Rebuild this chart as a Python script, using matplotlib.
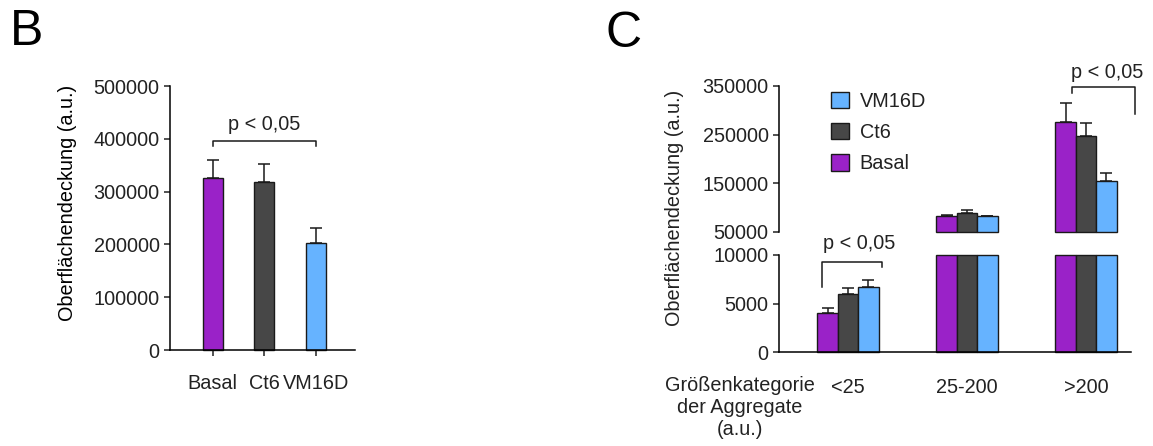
import numpy as np
import matplotlib
matplotlib.use('Agg')
import matplotlib.pyplot as plt
from matplotlib.patches import Patch

FS = 14.3
plt.rcParams['font.family'] = ['Liberation Sans', 'DejaVu Sans']
plt.rcParams['font.size'] = FS
plt.rcParams['axes.linewidth'] = 1.1
plt.rcParams['text.color'] = '#222222'
plt.rcParams['xtick.color'] = '#222222'
plt.rcParams['ytick.color'] = '#222222'

# ---- data ----
groups_b = ['Basal', 'Ct6', 'VM16D']
mean_b = [325000, 319000, 203000]
err_b = [35000, 33000, 29000]

size_cats = ['<25', '25-200', '>200']
basal_c = [4050, 83000, 276000]
basal_err_c = [490, 2000, 39000]
ct6_c = [6010, 90000, 248000]
ct6_err_c = [550, 5000, 25000]
vm16d_c = [6670, 82000, 155000]
vm16d_err_c = [720, 1000, 17000]

colors = {'Basal': '#9a22c8', 'Ct6': '#474747', 'VM16D': '#66b3ff'}
edge = '#1a1a1a'

W, H = 1153, 446
fig = plt.figure(figsize=(W / 100, H / 100), dpi=100)


def px_axes(left, top, right, bottom):
    return fig.add_axes([left / W, 1 - bottom / H, (right - left) / W, (bottom - top) / H])


def style(ax):
    for s in ['top', 'right']:
        ax.spines[s].set_visible(False)
    ax.tick_params(axis='y', length=4.5, width=1.1, pad=3, labelsize=FS)
    ax.patch.set_alpha(0)


# ---- panel B ----
axb = px_axes(170, 86, 355, 350)
style(axb)
xb = np.arange(len(groups_b))
axb.bar(xb, mean_b, width=0.39, color=[colors[g] for g in groups_b],
        edgecolor=edge, linewidth=1.0, zorder=2, clip_on=False)
axb.errorbar(xb, mean_b, yerr=[np.zeros(3), err_b], fmt='none', ecolor=edge,
             elinewidth=1.1, capsize=4.5, capthick=1.1, zorder=1)
axb.set_xlim(-0.83, 2.76)
axb.set_ylim(0, 500000)
axb.set_yticks([0, 100000, 200000, 300000, 400000, 500000])
axb.set_yticklabels(['0', '100000', '200000', '300000', '400000', '500000'])
axb.set_xticks(xb)
axb.set_xticklabels(groups_b)
axb.tick_params(axis='x', length=4.5, width=1.1, pad=13, labelsize=FS)
axb.set_ylabel('Oberflächendeckung (a.u.)', fontsize=FS)
axb.yaxis.set_label_coords(-0.503, 0.557)
# significance bracket
axb.plot([0, 0, 2, 2], [386000, 396000, 396000, 386000], color=edge, lw=1.1, clip_on=False)
axb.text(1, 410000, 'p < 0,05', ha='center', va='bottom', fontsize=FS)

# ---- panel C (broken y axis) ----
xc = np.arange(len(size_cats))
bw = 0.172
series = [('Basal', basal_c, basal_err_c, -bw),
          ('Ct6', ct6_c, ct6_err_c, 0),
          ('VM16D', vm16d_c, vm16d_err_c, bw)]

ax_hi = px_axes(779, 86, 1131, 232)
ax_lo = px_axes(779, 255, 1131, 352)
lo_top = 10000
hi_bot = 50000

for name, vals, errs, off in series:
    vals = np.array(vals, dtype=float)
    errs = np.array(errs, dtype=float)
    # lower segment: everything up to the break
    ax_lo.bar(xc + off, np.minimum(vals, lo_top), width=bw, color=colors[name],
              edgecolor=edge, linewidth=1.0, zorder=2, clip_on=False)
    below = vals <= lo_top
    ax_lo.errorbar((xc + off)[below], vals[below], yerr=[np.zeros(below.sum()), errs[below]],
                   fmt='none', ecolor=edge, elinewidth=1.1, capsize=4.5, capthick=1.1, zorder=1)
    # upper segment: what is above the break
    above = vals > hi_bot
    ax_hi.bar((xc + off)[above], vals[above] - hi_bot, bottom=hi_bot, width=bw,
              color=colors[name], edgecolor=edge, linewidth=1.0, zorder=2, clip_on=False)
    ax_hi.errorbar((xc + off)[above], vals[above], yerr=[np.zeros(above.sum()), errs[above]],
                   fmt='none', ecolor=edge, elinewidth=1.1, capsize=4.5, capthick=1.1, zorder=1)

for ax in (ax_hi, ax_lo):
    style(ax)
    ax.set_xlim(-0.58, 2.378)

ax_hi.set_ylim(hi_bot, 350000)
ax_hi.set_yticks([50000, 150000, 250000, 350000])
ax_hi.set_yticklabels(['50000', '150000', '250000', '350000'])
ax_hi.spines['bottom'].set_visible(False)
ax_hi.set_xticks([])

ax_lo.set_ylim(0, lo_top)
ax_lo.set_yticks([0, 5000, 10000])
ax_lo.set_yticklabels(['0', '5000', '10000'])
ax_lo.set_xticks(xc)
ax_lo.set_xticklabels(size_cats)
ax_lo.tick_params(axis='x', length=0, pad=19, labelsize=FS)

fig.text(674 / W, 1 - 208 / H, 'Oberflächendeckung (a.u.)', rotation=90,
         ha='center', va='center', fontsize=FS)
fig.text(740 / W, 1 - 376 / H, 'Größenkategorie\nder Aggregate\n(a.u.)', ha='center',
         va='top', fontsize=FS, linespacing=1.2, multialignment='center')

# brackets in panel C
ax_lo.plot([-0.218, -0.218, 0.286, 0.286], [6700, 9280, 9280, 8760], color=edge, lw=1.1, clip_on=False)
ax_lo.text(0.09, 10200, 'p < 0,05', ha='center', va='bottom', fontsize=FS, clip_on=False)
ax_hi.plot([1.882, 1.882, 2.41, 2.41], [335600, 348600, 348600, 292500], color=edge, lw=1.1, clip_on=False)
ax_hi.text(2.18, 358000, 'p < 0,05', ha='center', va='bottom', fontsize=FS, clip_on=False)

handles = [Patch(facecolor=colors[n], edgecolor=edge, linewidth=1.0) for n in ['VM16D', 'Ct6', 'Basal']]
fig.legend(handles, ['VM16D', 'Ct6', 'Basal'], loc='upper left',
           bbox_to_anchor=(831 / W, 1 - 92 / H), frameon=False, fontsize=FS,
           handlelength=0.9, handleheight=0.9, handletextpad=0.55,
           labelspacing=0.6, borderpad=0, borderaxespad=0)

# panel letters
fig.text(10 / W, 1 - 45 / H, 'B', fontsize=36, ha='left', va='baseline', color='black')
fig.text(606 / W, 1 - 47 / H, 'C', fontsize=36, ha='left', va='baseline', color='black')

fig.savefig('out.png', dpi=100)
